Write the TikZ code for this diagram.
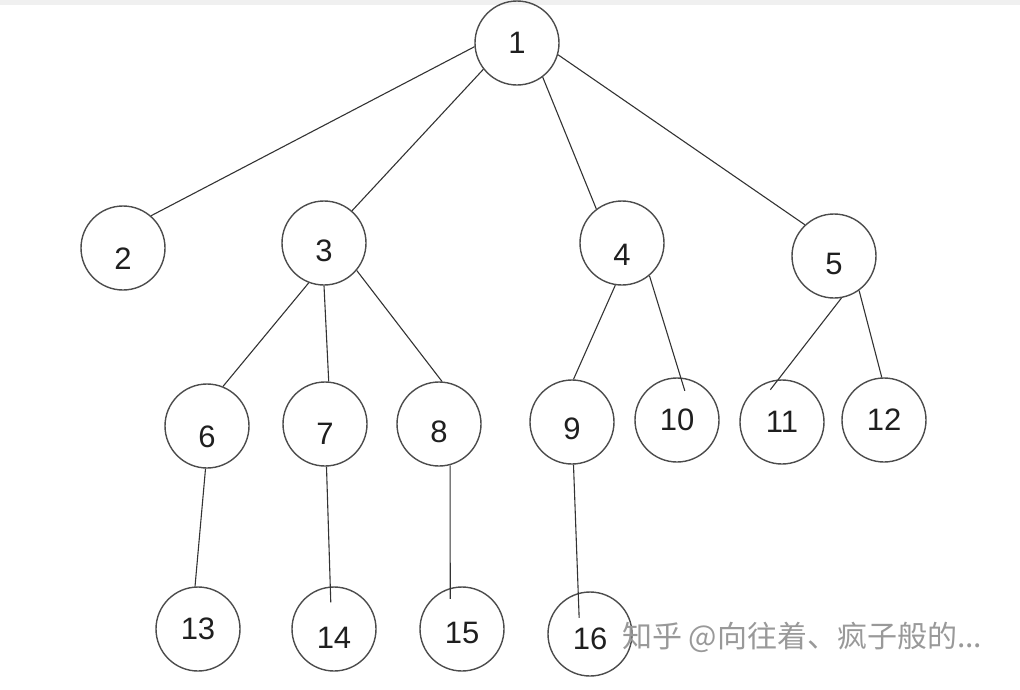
\documentclass[tikz,border=0pt]{standalone}
\usepackage{fontspec}
\setmainfont{Liberation Sans}
\newfontfamily\cjk{Noto Sans CJK SC}

\tikzset{
  vert/.style={circle, draw=black!70, line width=1.4pt, minimum size=84pt, inner sep=0pt},
  lab/.style={inner sep=0pt, font=\fontsize{31}{36}\selectfont, text=black!88},
  edge/.style={draw=black!80, line width=1.1pt},
}

\begin{document}
\begin{tikzpicture}[x=1pt, y=-1pt]
\useasboundingbox (0,0) rectangle (1020,689);
\fill[black!6] (0,0) rectangle (1020,5);

% circles, with the number a little low in most of them
\foreach \i/\x/\y/\d in {1/517/43/0, 2/123/248/11, 3/324/243/8, 4/622/243/12, 5/834/256/8,
    6/207/426/11, 7/325/424/10, 8/439/424/8, 9/572/422/7, 10/677/420/0, 11/782/422/0, 12/884/420/0,
    13/198/629/0, 14/334/629/9, 15/462/629/4, 16/590/634/5} {
	\node[vert, label={[lab, yshift=-\d pt]center:\i}] (n\i) at (\x, \y) {};
}

\foreach \a/\p/\b/\q/\s in {1/185/2/49/0pt, 1/218/3/49/0pt, 1/307/4/127/0pt, 1/344/5/133/0pt,
    3/249/6/68/0pt, 3/270/7/85/0pt, 3/320/8/86/0pt,
    4/261/9/88/0pt, 4/310/10/85/14pt, 5/280/11/95/13pt, 5/306/12/93/0pt,
    6/268/13/94/0pt, 7/272/14/95/16pt, 8/285/15/106/11pt, 9/272/16/106/25pt} {
	\draw[edge, shorten >=-\s] (n\a.\p) -- (n\b.\q);
}

\node[anchor=west, inner sep=0pt, text=black!40, font=\cjk\fontsize{30}{36}\selectfont]
  (mark) at (622, 637) {知乎 @向往着、疯子般的...};
\end{tikzpicture}
\end{document}
